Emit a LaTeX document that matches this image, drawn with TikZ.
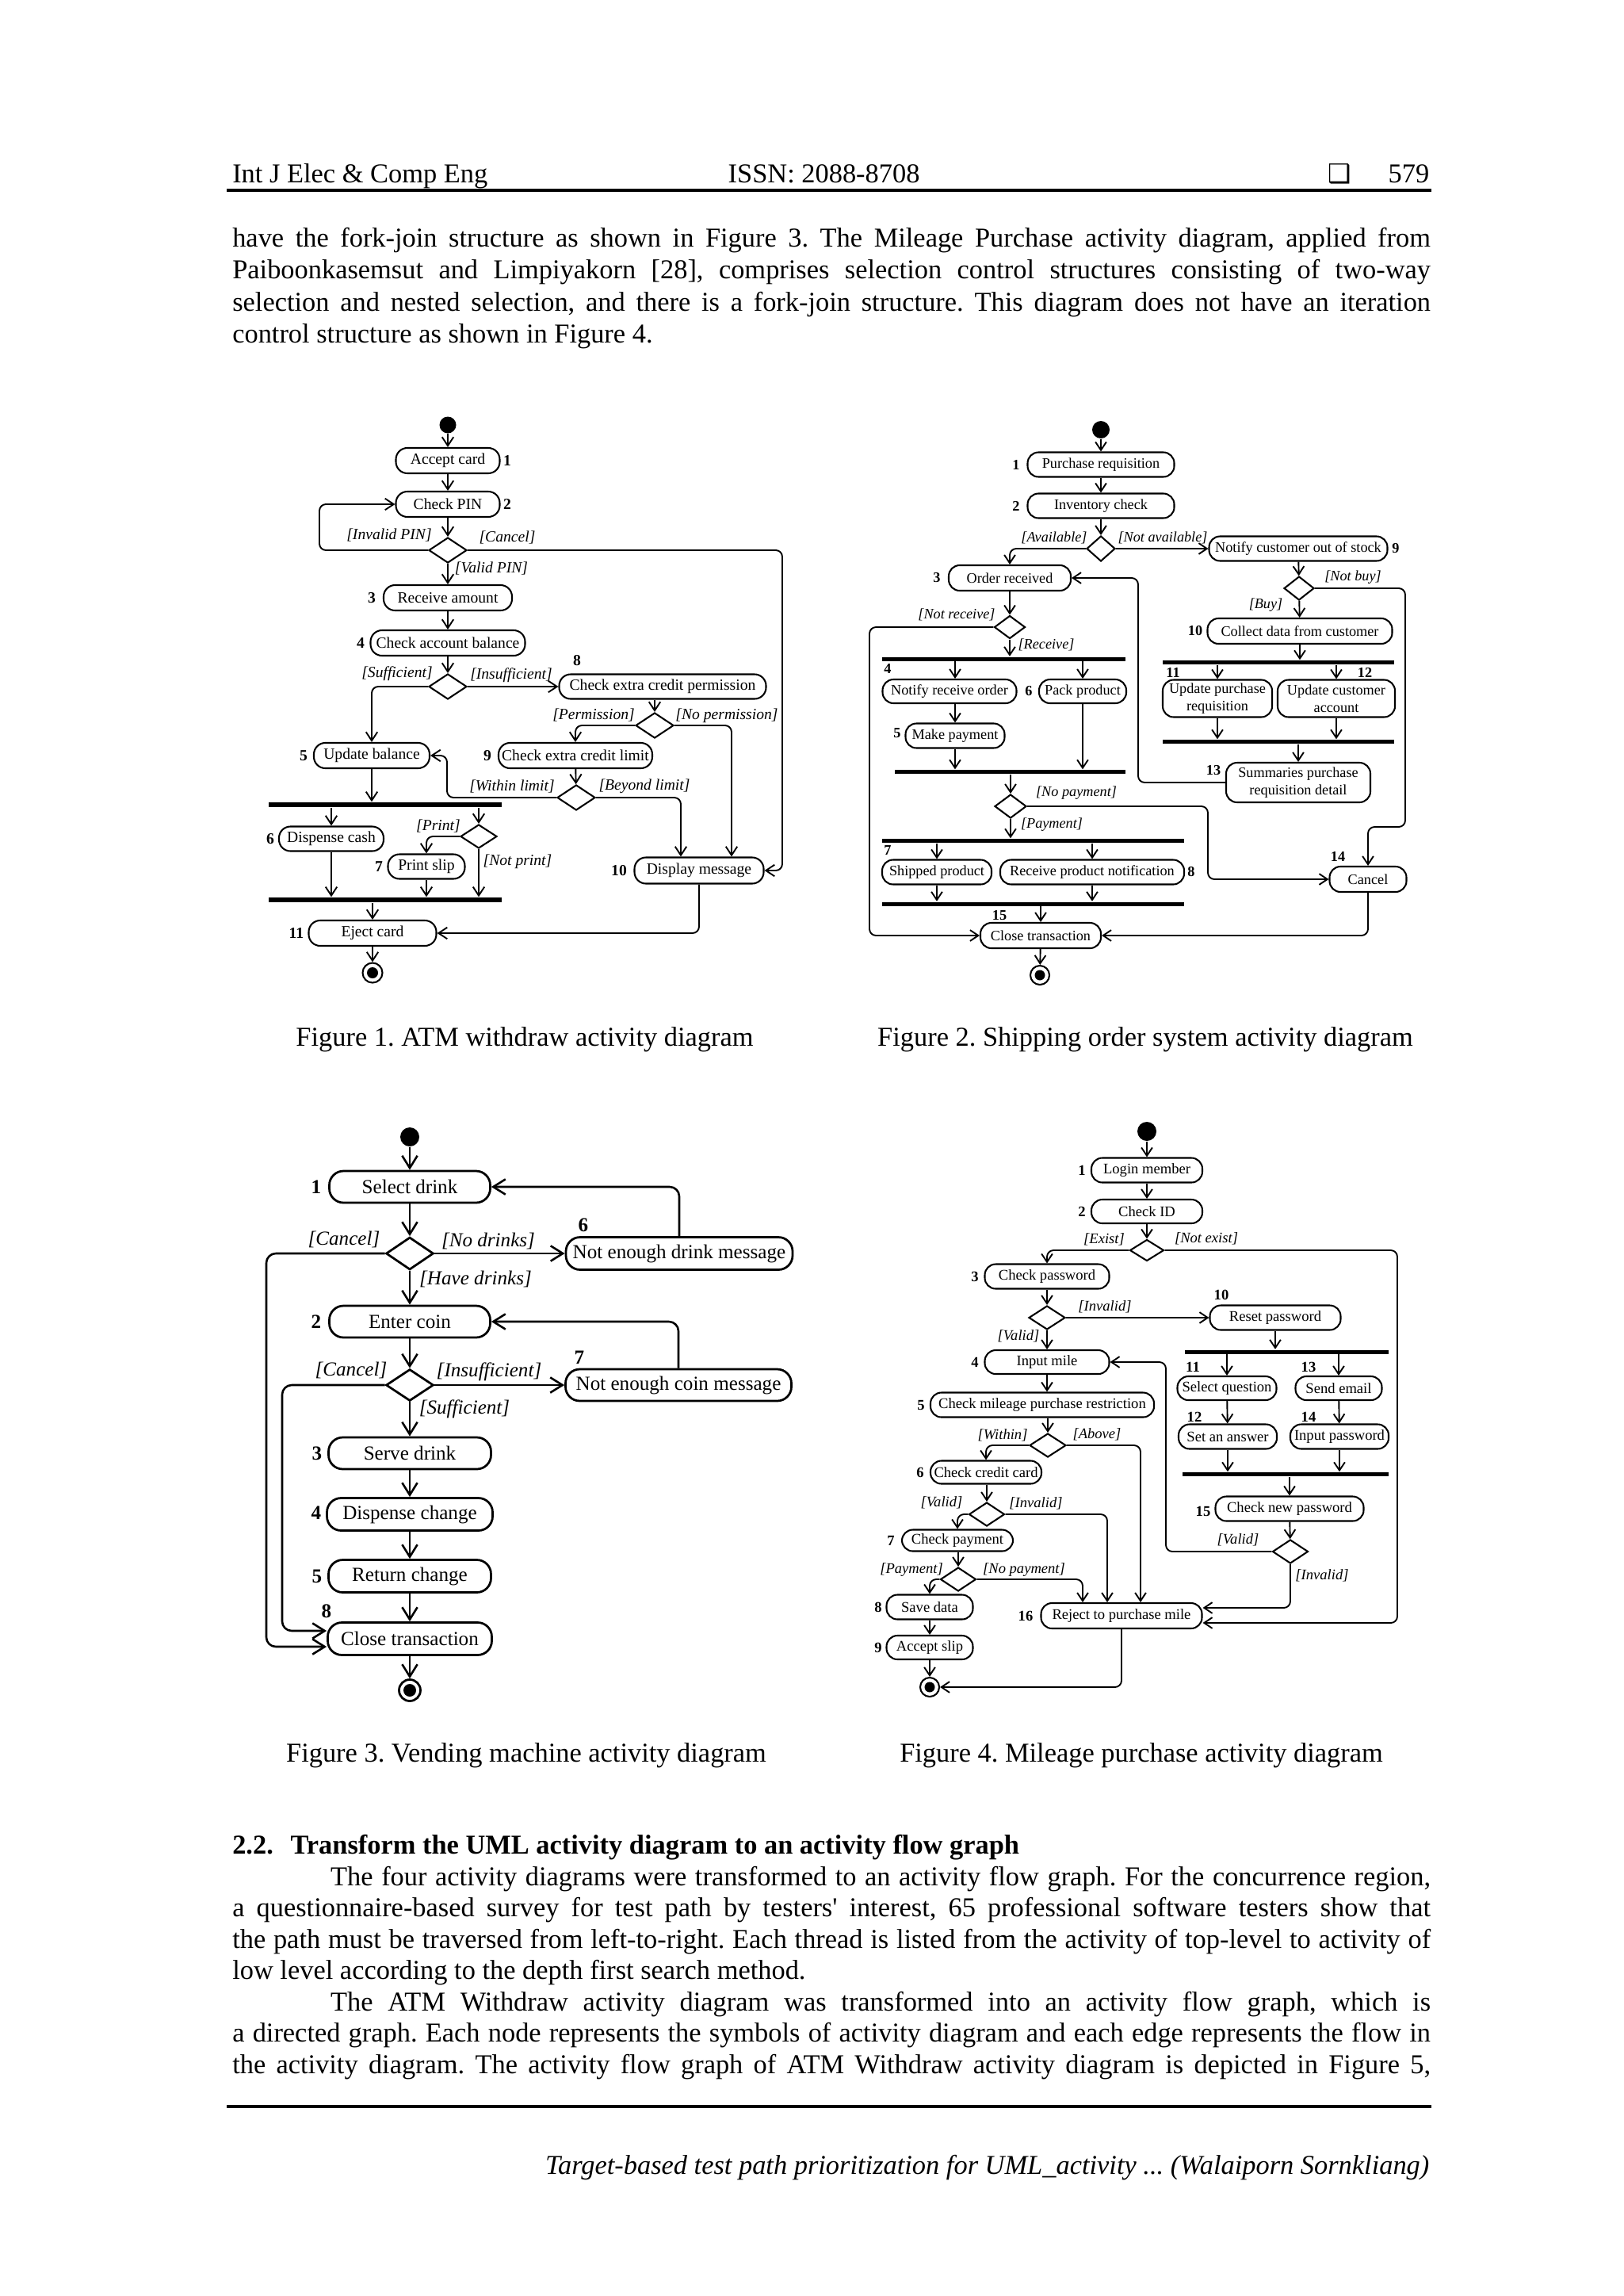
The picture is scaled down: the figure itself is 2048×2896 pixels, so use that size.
\documentclass[tikz,border=0pt]{standalone}
\usepackage{fontspec}
\setmainfont{Liberation Serif}
\newfontfamily\dejavu{DejaVu Sans}
\usetikzlibrary{arrows.meta,calc,shapes.geometric}
\newlength\pxl
\setlength\pxl{0.29066pt}
\newcommand\ffA{\fontsize{5.7}{6.4}\selectfont}
\newcommand\ffB{\fontsize{5.3}{6.3}\selectfont}
\newcommand\ffC{\fontsize{7.3}{8.4}\selectfont}
\newcommand\ffD{\fontsize{5.4}{6.2}\selectfont}
\newcommand\fbody{\fontsize{10}{11.5}\selectfont}
\newcommand\actn[7]{\node[#1, minimum width=#5*\pxl, minimum height=#6*\pxl] (#2) at (#3,#4) {#7};}
\frenchspacing
\begin{document}
\frenchspacing
\begin{tikzpicture}[x=0.29066pt, y=-0.29066pt,
  act/.style={draw, inner sep=0pt, align=center},
  actA/.style={act, line width=.6pt, rounded corners=4.2pt, font=\ffA},
  actB/.style={act, line width=.6pt, rounded corners=4pt, font=\ffB},
  actC/.style={act, line width=.8pt, rounded corners=5.2pt, font=\ffC},
  actD/.style={act, line width=.6pt, rounded corners=4pt, font=\ffD},
  diaA/.style={draw, diamond, inner sep=0pt, line width=.6pt},
  diaC/.style={draw, diamond, inner sep=0pt, line width=.8pt},
  bar/.style={fill=black, inner sep=0pt},
  startdot/.style={circle, fill=black, inner sep=0pt, minimum size=#1*\pxl},
  endring/.style={circle, draw, line width=.6pt, inner sep=0pt, minimum size=#1*\pxl},
  endringC/.style={circle, draw, line width=.8pt, inner sep=0pt, minimum size=#1*\pxl},
  enddot/.style={circle, fill=black, inner sep=0pt, minimum size=#1*\pxl},
  numA/.style={inner sep=0pt, font=\ffA\bfseries},
  numB/.style={inner sep=0pt, font=\ffB\bfseries},
  numC/.style={inner sep=0pt, font=\ffC\bfseries},
  numD/.style={inner sep=0pt, font=\ffD\bfseries},
  grdA/.style={inner sep=0pt, font=\ffA\itshape},
  grdB/.style={inner sep=0pt, font=\ffB\itshape},
  grdC/.style={inner sep=0pt, font=\ffC\itshape},
  grdD/.style={inner sep=0pt, font=\ffD\itshape},
  lnA/.style={line width=.55pt, rounded corners=2.4pt},
  arA/.style={lnA, -{Straight Barb[length=3.2pt,width=4.2pt]}},
  arB/.style={lnA, -{Straight Barb[length=3pt,width=4pt]}},
  lnC/.style={line width=.75pt, rounded corners=3.5pt},
  arC/.style={lnC, -{Straight Barb[length=4.5pt,width=5.6pt]}},
  txt/.style={inner sep=0pt, anchor=base west, font=\fbody},
]
\fill[white] (0,0) rectangle (2048,2896);
\useasboundingbox (0,0) rectangle (2048,2896);

% ---------------- header ----------------
\node[txt] (hdrL) at (292.6,230) {Int J Elec \& Comp Eng};
\node[txt] (hdrC) at (918,230) {ISSN: 2088-8708};
\node[inner sep=0pt, anchor=base, font=\dejavu\fontsize{9.5}{9.5}\selectfont] (hdrBox) at (1690,230) {❑};
\node[txt, anchor=base east] (hdrR) at (1804,230) {579};
\draw[line width=0.9pt] (286,240) -- (1806,240);

% ---------------- paragraph 1 ----------------
\node[txt] (p1a) at (292.6,311) {\makebox[439.4pt][s]{have the fork-join structure as shown in Figure 3. The Mileage Purchase activity diagram, applied from}};
\node[txt] (p1b) at (292.6,351.5) {\makebox[439.4pt][s]{Paiboonkasemsut and Limpiyakorn [28], comprises selection control structures consisting of two-way}};
\node[txt] (p1c) at (292.6,392) {\makebox[439.4pt][s]{selection and nested selection, and there is a fork-join structure. This diagram does not have an iteration}};
\node[txt] (p1d) at (292.6,432.5) {control structure as shown in Figure 4.};

% ================= FIGURE 1 =================
\node[startdot=21] (s1) at (565,536) {};
\actn{actA}{a1}{565}{581}{131}{32}{Accept card}
\actn{actA}{a2}{565}{636}{131}{32}{Check PIN}
\actn{diaA}{d1}{565}{694}{48}{32}{}
\actn{actA}{a3}{565}{754}{162}{32}{Receive amount}
\actn{actA}{a4}{565}{811}{195}{32}{Check account balance}
\actn{diaA}{d2}{565}{866}{48}{32}{}
\actn{actA}{a8}{836}{866}{261}{31}{Check extra credit permission}
\actn{diaA}{d3}{826}{915}{48}{32}{}
\actn{actA}{a5}{469}{953}{146}{32}{Update balance}
\actn{actA}{a9}{726}{953}{194}{32}{Check extra credit limit}
\actn{diaA}{d4}{727}{1006}{48}{32}{}
\actn{bar}{f1}{486}{1015}{294}{6}{}
\actn{actA}{a6}{418}{1058}{132}{31}{Dispense cash}
\actn{diaA}{d5}{604}{1055}{46}{30}{}
\actn{actA}{a7}{538}{1093}{97}{31}{Print slip}
\actn{actA}{a10}{882}{1098}{163}{33}{Display message}
\actn{bar}{j1}{486}{1135}{294}{6}{}
\actn{actA}{a11}{470}{1177}{161}{32}{Eject card}
\node[endring=25] (e1) at (470,1227) {};
\node[enddot=14] (e1i) at (470,1227) {};

\node[numA] (lA1) at (640,581) {1};
\node[numA] (lA2) at (640,636) {2};
\node[numA] (lA3) at (469,754) {3};
\node[numA] (lA4) at (455,811) {4};
\node[numA] (lA8) at (728,833) {8};
\node[numA] (lA5) at (383,953) {5};
\node[numA] (lA9) at (615,953) {9};
\node[numA] (lA6) at (341,1058) {6};
\node[numA] (lA7) at (478,1093) {7};
\node[numA] (lA10) at (781,1098) {10};
\node[numA] (lA11) at (374,1177) {11};

\node[grdA] (qA1) at (491,675) {[Invalid PIN]};
\node[grdA] (qA2) at (640,678) {[Cancel]};
\node[grdA] (qA3) at (620,717) {[Valid PIN]};
\node[grdA] (qA4) at (501,850) {[Sufficient]};
\node[grdA] (qA5) at (645,852) {[Insufficient]};
\node[grdA] (qA6) at (749,902) {[Permission]};
\node[grdA] (qA7) at (917,903) {[No permission]};
\node[grdA] (qA8) at (646,992) {[Within limit]};
\node[grdA] (qA9) at (813,992) {[Beyond limit]};
\node[grdA] (qA10) at (553,1042) {[Print]};
\node[grdA] (qA11) at (653,1087) {[Not print]};

\draw[arA] (s1) -- (a1);
\draw[arA] (a1) -- (a2);
\draw[arA] (a2) -- (d1);
\draw[arA] (d1.west) -- (403,694) |- (a2.west);
\draw[arA] (d1.east) -- (987,694) |- (a10.east);
\draw[arA] (d1) -- (a3);
\draw[arA] (a3) -- (a4);
\draw[arA] (a4) -- (d2);
\draw[arA] (d2) -- (a8);
\draw[arA] (d2.west) -| (a5.north);
\draw[arA] (d3.north |- a8.south) -- (d3.north);
\draw[arA] (d3.west) -| (a9.north);
\draw[arA] (d3.east) -| ($(a10.north)+(41,0)$);
\draw[arA] (a9) -- (d4);
\draw[arA] (d4.west) -- (564,1006) |- (a5.east);
\draw[arA] (d4.east) -| ($(a10.north)+(-23,0)$);
\draw[arA] (a5.south) -- (a5.south |- f1.north);
\draw[arA] (a6.north |- f1.south) -- (a6.north);
\draw[arA] (d5.north |- f1.south) -- (d5.north);
\draw[arA] (d5.west) -| (a7.north);
\draw[arA] (d5.south) -- (d5.south |- j1.north);
\draw[arA] (a6.south) -- (a6.south |- j1.north);
\draw[arA] (a7.south) -- (a7.south |- j1.north);
\draw[arA] (a11.north |- j1.south) -- (a11.north);
\draw[arA] (a10.south) |- (a11.east);
\draw[arA] (a11) -- (e1);

% ================= FIGURE 2 =================
\node[startdot=22] (s2) at (1389,542) {};
\actn{actB}{b1}{1389}{586}{185}{31}{Purchase requisition}
\actn{actB}{b2}{1389}{638}{185}{31}{Inventory check}
\actn{diaA}{g1}{1389}{692}{36}{32}{}
\actn{actB}{b9}{1638}{692}{225}{31}{Notify customer out of stock}
\actn{actB}{b3}{1274}{729}{154}{32}{Order received}
\actn{diaA}{g2}{1274}{791}{39}{29}{}
\actn{bar}{fA}{1266.5}{831}{307}{5}{}
\actn{actB}{b4}{1198}{872}{169}{30}{Notify receive order}
\actn{actB}{b6}{1366}{872}{110}{30}{Pack product}
\actn{diaA}{g3}{1639}{742}{38}{30}{}
\actn{actB}{b10}{1640}{796}{233}{32}{Collect data from customer}
\actn{bar}{fB}{1613}{835.5}{292}{5}{}
\actn{actB}{b11}{1536}{881}{138}{47}{Update purchase\\requisition}
\actn{actB}{b12}{1686}{881}{148}{47}{Update customer\\account}
\actn{bar}{jB}{1613}{935.5}{292}{5}{}
\actn{actB}{b13}{1638}{987}{182}{50}{Summaries purchase\\requisition detail}
\actn{actB}{b5}{1205}{928}{125}{31}{Make payment}
\actn{bar}{jA}{1274.5}{973.5}{291}{5}{}
\actn{diaA}{g4}{1275}{1017}{40}{30}{}
\actn{bar}{fC}{1303.5}{1060.5}{381}{5}{}
\actn{actB}{b7}{1182}{1100}{138}{31}{Shipped product}
\actn{actB}{b8}{1378}{1100}{232}{31}{Receive product notification}
\actn{bar}{jC}{1303.5}{1140}{381}{5}{}
\actn{actB}{b15}{1313}{1180}{152}{32}{Close transaction}
\actn{actB}{b14}{1726}{1109}{97}{32}{Cancel}
\node[endring=24] (e2) at (1312,1230) {};
\node[enddot=13] (e2i) at (1312,1230) {};

\node[numB] (lB1) at (1282,586) {1};
\node[numB] (lB2) at (1282,638) {2};
\node[numB] (lB3) at (1182,729) {3};
\node[numB] (lB9) at (1761,692) {9};
\node[numB] (lB4) at (1120,843) {4};
\node[numB] (lB6) at (1298,872) {6};
\node[numB] (lB5) at (1132,925) {5};
\node[numB] (lB10) at (1508,796) {10};
\node[numB] (lB11) at (1480,848) {11};
\node[numB] (lB12) at (1722,848) {12};
\node[numB] (lB13) at (1531,972) {13};
\node[numB] (lB7) at (1120,1073) {7};
\node[numB] (lB8) at (1503,1100) {8};
\node[numB] (lB14) at (1688,1080) {14};
\node[numB] (lB15) at (1261,1155) {15};

\node[grdB] (qB1) at (1330,678) {[Available]};
\node[grdB] (qB2) at (1467,678) {[Not available]};
\node[grdB] (qB3) at (1207,775) {[Not receive]};
\node[grdB] (qB4) at (1320,813) {[Receive]};
\node[grdB] (qB5) at (1707,728) {[Not buy]};
\node[grdB] (qB6) at (1597,763) {[Buy]};
\node[grdB] (qB7) at (1358,1000) {[No payment]};
\node[grdB] (qB8) at (1327,1040) {[Payment]};

\draw[arB] (s2) -- (b1);
\draw[arB] (b1) -- (b2);
\draw[arB] (b2) -- (g1);
\draw[arB] (g1.west) -| (b3.north);
\draw[arB] (g1) -- (b9);
\draw[arB] (b3) -- (g2);
\draw[arB] (g2.west) -- (1097,791) |- (b15.west);
\draw[arB] (g2.south) -- (g2.south |- fA.north);
\draw[arB] (b5.north |- fA.south) -- (b5.north |- b4.north);
\draw[arB] (b6.north |- fA.south) -- (b6.north);
\draw[arB] (b5.north |- b4.south) -- (b5.north);
\draw[arB] (b5.south) -- (b5.south |- jA.north);
\draw[arB] (b6.south) -- (b6.south |- jA.north);
\draw[arB] (g4.north |- jA.south) -- (g4.north);
\draw[arB] (g4.east) -- (1524,1017) |- (b14.west);
\draw[arB] (g4.south) -- (g4.south |- fC.north);
\draw[arB] (b7.north |- fC.south) -- (b7.north);
\draw[arB] (b8.north |- fC.south) -- (b8.north);
\draw[arB] (b7.south) -- (b7.south |- jC.north);
\draw[arB] (b8.south) -- (b8.south |- jC.north);
\draw[arB] (b15.north |- jC.south) -- (b15.north);
\draw[arB] (b14.south) |- (b15.east);
\draw[arB] (b15) -- (e2);
\draw[arB] (b9) -- (g3);
\draw[arB] (g3.east) -- (1773,742) -- (1773,1043) -- (1726,1043) -- (b14.north);
\draw[arB] (g3) -- (b10);
\draw[arB] (b10.south) -- (b10.south |- fB.north);
\draw[arB] (b11.north |- fB.south) -- (b11.north);
\draw[arB] (b12.north |- fB.south) -- (b12.north);
\draw[arB] (b11.south) -- (b11.south |- jB.north);
\draw[arB] (b12.south) -- (b12.south |- jB.north);
\draw[arB] (b13.north |- jB.south) -- (b13.north);
\draw[arB] (b13.west) -- (1436,987) |- (b3.east);

\node[txt, anchor=base] (cap1) at (662,1319) {Figure 1. ATM withdraw activity diagram};
\node[txt, anchor=base] (cap2) at (1445,1319) {Figure 2. Shipping order system activity diagram};

% ================= FIGURE 3 =================
\node[startdot=24] (s3) at (517,1434) {};
\actn{actC}{c1}{517}{1497}{203}{40}{Select drink}
\actn{diaC}{k1}{517}{1581}{60}{41}{}
\actn{actC}{c6}{857}{1581}{286}{41}{Not enough drink message}
\actn{actC}{c2}{517}{1667}{203}{40}{Enter coin}
\actn{diaC}{k2}{517}{1747}{60}{40}{}
\actn{actC}{c7}{856}{1747}{285}{40}{Not enough coin message}
\actn{actC}{c3}{517}{1833}{205}{40}{Serve drink}
\actn{actC}{c4}{517}{1910}{209}{41}{Dispense change}
\actn{actC}{c5}{517}{1988}{205}{41}{Return change}
\actn{actC}{c8}{517}{2067}{207}{41}{Close transaction}
\node[endringC=27] (e3) at (517,2132) {};
\node[enddot=16] (e3i) at (517,2132) {};

\node[numC] (lC1) at (399,1497) {1};
\node[numC] (lC6) at (736,1545) {6};
\node[numC] (lC2) at (399,1667) {2};
\node[numC] (lC7) at (731,1712) {7};
\node[numC] (lC3) at (400,1833) {3};
\node[numC] (lC4) at (399,1908) {4};
\node[numC] (lC5) at (400,1988) {5};
\node[numC] (lC8) at (412,2032) {8};

\node[grdC] (qC1) at (434,1563) {[Cancel]};
\node[grdC] (qC2) at (616,1565) {[No drinks]};
\node[grdC] (qC3) at (600,1613) {[Have drinks]};
\node[grdC] (qC4) at (443,1728) {[Cancel]};
\node[grdC] (qC5) at (617,1730) {[Insufficient]};
\node[grdC] (qC6) at (586,1777) {[Sufficient]};

\draw[arC] (s3) -- (c1);
\draw[arC] (c1) -- (k1);
\draw[arC] (k1) -- (c6);
\draw[arC] (c6.north) |- (c1.east);
\draw[arC] (k1) -- (c2);
\draw[arC] (k1.west) -- (336,1581) |- ($(c8.west)+(0,10)$);
\draw[arC] (c2) -- (k2);
\draw[arC] (k2) -- (c7);
\draw[arC] (c7.north) |- (c2.east);
\draw[arC] (k2.west) -- (356,1747) |- ($(c8.west)+(0,-10)$);
\draw[arC] (k2) -- (c3);
\draw[arC] (c3) -- (c4);
\draw[arC] (c4) -- (c5);
\draw[arC] (c5) -- (c8);
\draw[arC] (c8) -- (e3);

% ================= FIGURE 4 =================
\node[startdot=24] (s4) at (1447,1427) {};
\actn{actD}{m1}{1447}{1476}{140}{31}{Login member}
\actn{actD}{m2}{1447}{1528}{140}{30}{Check ID}
\actn{diaA}{h1}{1447}{1577}{43}{27}{}
\actn{actD}{m3}{1321}{1610}{157}{31}{Check password}
\actn{diaA}{h2}{1321}{1662}{46}{30}{}
\actn{actD}{m10}{1609}{1662}{165}{31}{Reset password}
\actn{bar}{fD}{1623.5}{1705}{257}{5}{}
\actn{actD}{m11}{1548}{1751}{125}{30}{Select question}
\actn{actD}{m13}{1689}{1751}{109}{30}{Send email}
\actn{actD}{m4}{1321}{1718}{157}{30}{Input mile}
\actn{actD}{m5}{1315}{1772}{282}{31}{Check mileage purchase restriction}
\actn{diaA}{h3}{1322}{1823}{46}{30}{}
\actn{actD}{m6}{1244}{1857}{140}{29}{Check credit card}
\actn{diaA}{h4}{1245}{1910}{45}{30}{}
\actn{actD}{m7}{1208}{1943}{140}{27}{Check payment}
\actn{diaA}{h5}{1209}{1992}{45}{30}{}
\actn{actD}{m8}{1173}{2027}{109}{31}{Save data}
\actn{actD}{m9}{1173}{2078}{109}{30}{Accept slip}
\node[endring=24] (e4) at (1173,2128) {};
\node[enddot=13] (e4i) at (1173,2128) {};
\actn{actD}{m16}{1415}{2038}{203}{32}{Reject to purchase mile}
\actn{actD}{m12}{1549}{1812}{124}{31}{Set an answer}
\actn{actD}{m14}{1690}{1812}{124}{31}{Input password}
\actn{bar}{jD}{1622}{1859.5}{260}{5}{}
\actn{actD}{m15}{1627}{1903}{187}{31}{Check new password}
\actn{diaA}{h6}{1628}{1957}{45}{30}{}

\node[numD] (lD1) at (1365,1476) {1};
\node[numD] (lD2) at (1365,1528) {2};
\node[numD] (lD3) at (1230,1610) {3};
\node[numD] (lD10) at (1541,1633) {10};
\node[numD] (lD4) at (1230,1718) {4};
\node[numD] (lD11) at (1505,1724) {11};
\node[numD] (lD13) at (1651,1724) {13};
\node[numD] (lD5) at (1162,1772) {5};
\node[numD] (lD12) at (1507,1787) {12};
\node[numD] (lD14) at (1651,1787) {14};
\node[numD] (lD6) at (1161,1857) {6};
\node[numD] (lD15) at (1518,1906) {15};
\node[numD] (lD7) at (1124,1943) {7};
\node[numD] (lD8) at (1108,2027) {8};
\node[numD] (lD16) at (1294,2038) {16};
\node[numD] (lD9) at (1108,2078) {9};

\node[grdD] (qD1) at (1393,1563) {[Exist]};
\node[grdD] (qD2) at (1522,1562) {[Not exist]};
\node[grdD] (qD3) at (1394,1648) {[Invalid]};
\node[grdD] (qD4) at (1285,1685) {[Valid]};
\node[grdD] (qD5) at (1265,1810) {[Within]};
\node[grdD] (qD6) at (1384,1809) {[Above]};
\node[grdD] (qD7) at (1188,1895) {[Valid]};
\node[grdD] (qD8) at (1307,1896) {[Invalid]};
\node[grdD] (qD9) at (1150,1980) {[Payment]};
\node[grdD] (qD10) at (1292,1980) {[No payment]};
\node[grdD] (qD11) at (1562,1942) {[Valid]};
\node[grdD] (qD12) at (1668,1987) {[Invalid]};

\draw[arB] (s4) -- (m1);
\draw[arB] (m1) -- (m2);
\draw[arB] (m2) -- (h1);
\draw[arB] (h1.west) -| (m3.north);
\draw[arB] (h1.east) -- (1763,1577) |- ($(m16.east)+(0,9)$);
\draw[arB] (m3) -- (h2);
\draw[arB] (h2) -- (m10);
\draw[arB] (h2) -- (m4);
\draw[arB] (m10.south) -- (m10.south |- fD.north);
\draw[arB] (m11.north |- fD.south) -- (m11.north);
\draw[arB] (m13.north |- fD.south) -- (m13.north);
\draw[arB] (m11) -- (m12);
\draw[arB] (m13) -- (m14);
\draw[arB] (m12.south) -- (m12.south |- jD.north);
\draw[arB] (m14.south) -- (m14.south |- jD.north);
\draw[arB] (m15.north |- jD.south) -- (m15.north);
\draw[arB] (m15) -- (h6);
\draw[arB] (h6.west) -- (1471,1957) |- (m4.east);
\draw[arB] (h6.south) |- ($(m16.east)+(0,-10)$);
\draw[arB] (m4.south) -- (m4.south |- m5.north);
\draw[arB] (m5.south -| h3.north) -- (h3.north);
\draw[arB] (h3.west) -| (m6.north);
\draw[arB] (h3.east) -| ($(m16.north)+(24,0)$);
\draw[arB] (m6.south -| h4.north) -- (h4.north);
\draw[arB] (h4.west) -| (m7.north);
\draw[arB] (h4.east) -| ($(m16.north)+(-18,0)$);
\draw[arB] (m7.south -| h5.north) -- (h5.north);
\draw[arB] (h5.west) -| (m8.north);
\draw[arB] (h5.east) -| ($(m16.north)+(-49,0)$);
\draw[arB] (m8) -- (m9);
\draw[arB] (m9) -- (e4);
\draw[arB] (m16.south) |- (e4.east);

\node[txt, anchor=base] (cap3) at (664,2222) {Figure 3. Vending machine activity diagram};
\node[txt, anchor=base] (cap4) at (1440,2222) {Figure 4. Mileage purchase activity diagram};

% ---------------- section 2.2 ----------------
\node[txt] (sec) at (292.6,2338) {\bfseries\makebox[21.3pt][l]{2.2.}Transform the UML activity diagram to an activity flow graph};
\node[txt] (p2a) at (416.5,2378) {\makebox[403.4pt][s]{The four activity diagrams were transformed to an activity flow graph. For the concurrence region,}};
\node[txt] (p2b) at (292.6,2417.5) {\makebox[439.4pt][s]{a questionnaire-based survey for test path by testers\textquotesingle{} interest, 65 professional software testers show that}};
\node[txt] (p2c) at (292.6,2457) {\makebox[439.4pt][s]{the path must be traversed from left-to-right. Each thread is listed from the activity of top-level to activity of}};
\node[txt] (p2d) at (292.6,2496.5) {low level according to the depth first search method.};
\node[txt] (p3a) at (416.5,2536) {\makebox[403.4pt][s]{The ATM Withdraw activity diagram was transformed into an activity flow graph, which is}};
\node[txt] (p3b) at (292.6,2575.5) {\makebox[439.4pt][s]{a directed graph. Each node represents the symbols of activity diagram and each edge represents the flow in}};
\node[txt] (p3c) at (292.6,2615) {\makebox[439.4pt][s]{the activity diagram. The activity flow graph of ATM Withdraw activity diagram is depicted in Figure 5,}};

% ---------------- footer ----------------
\draw[line width=0.9pt] (286,2657) -- (1806,2657);
\node[txt, anchor=base east, font=\fbody\itshape] (ftr) at (1804,2742) {Target-based test path prioritization for UML\_activity ... (Walaiporn Sornkliang)};
\end{tikzpicture}
\end{document}
